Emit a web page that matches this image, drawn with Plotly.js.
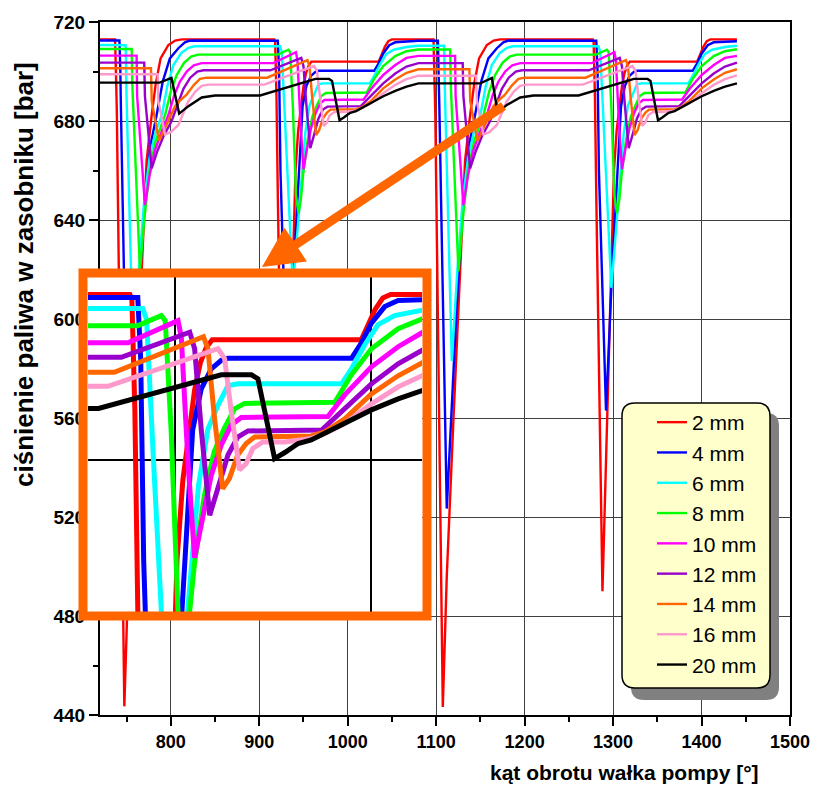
<!DOCTYPE html>
<html><head><meta charset="utf-8">
<script src="https://cdn.plot.ly/plotly-3.0.1.min.js"></script>
<style>html,body{margin:0;padding:0;background:#fff}#chart{width:816px;height:785px}</style>
</head><body><div id="chart"></div>
<script>
// ---- data (angle [deg], pressure [bar]) ----
const names = ["2 mm","4 mm","6 mm","8 mm","10 mm","12 mm","14 mm","16 mm","20 mm"];
const colors = ["#ff0000","#0000ff","#00ffff","#00ff00","#ff00ff","#9900cc","#ff6600","#ff99cc","#000000"];

const x_2mm = [720,737,738,739,747.5,752,759.5,767,772.7,778.4,783,788.5,797.3,805,812.3,
  917,918,919.5,921,928,936,941,944,947,950,953,956,959,1035,1038,1042,1046,1050,
  1097,1098,1099,1107.5,1112,1119.5,1127,1132.7,1138.4,1143,1148.5,1157.3,1165,1172.3,
  1277,1278,1279.5,1281,1288,1296,1301,1304,1307,1310,1313,1316,1319,1395,1398,1402,1406,1410,1440];
const y_2mm = [713,713,700,684,443.5,496,559,621,664,682.4,695,705.3,710.7,712.5,713,
  713,712,690,650,490,600,660,676,686,694,699.5,702.5,704,704,706.5,710,712.3,713,
  713,700,684,443.2,496,559,621,664,682.4,695,705.3,710.7,712.5,713,
  713,712,690,650,490,600,660,676,686,694,699.5,702.5,704,704,706.5,710,712.3,713,713];

const x_4mm = [720,742,743,743.7,752,758,763.3,770.8,777,784,791,799,808.6,816,821.7,
  921,922.5,924,932,939,944,947,949,953.4,958.5,963.6,967,1030,1035,1040.2,1047,1053.8,1080,
  1102,1103,1103.7,1112,1118,1123.3,1130.8,1137,1144,1151,1159,1168.6,1176,1181.7,
  1281,1282.5,1284,1292,1299,1304,1307,1309,1313.4,1318.5,1323.6,1327,1390,1395,1400.2,1407,1413.8,1440];
const y_4mm = [712.5,712.5,700,684,523.4,568,605.9,650,670,682.4,696,705.3,709.4,711.8,712.5,
  712.4,700,660,563,620,655,675,686,694.2,698.2,699.9,700.3,700.3,703.3,707.3,710.6,711.8,712.4,
  712.4,700,684,523.4,568,605.9,650,670,682.4,696,705.3,709.4,711.8,712.5,
  712.4,700,660,563,620,655,675,686,694.2,698.2,699.9,700.3,700.3,703.3,707.3,710.6,711.8,712.2];

const x_6mm = [720,749,749.5,750,757.7,764,770,776,783,790,796,803,812,820,827,
  923.5,925.5,929,933,938,942,946,949,952,956.8,961.9,967,972,1025,1030,1036.8,1043.6,1052,1066.5,1080,
  1109,1109.5,1110,1117.7,1124,1130,1136,1143,1150,1156,1163,1172,1180,1187,
  1283.5,1285.5,1289,1293,1298,1302,1306,1309,1312,1316.8,1321.9,1327,1332,1385,1390,1396.8,1403.6,1412,1426.5,1440];
const y_6mm = [710.7,710.6,700,690,583,620,648,665,676,682.4,694,702.6,707.5,709.6,710.2,
  710.2,708,680,650,612.6,630,648,662,675,686.2,690.9,694.8,695.2,695.2,698.2,703,707,708.8,709.9,710.4,
  710.4,700,690,583,620,648,665,676,682.4,694,702.6,707.5,709.6,710.2,
  710.2,708,680,650,612.6,630,648,662,675,686.2,690.9,694.8,695.2,695.2,698.2,703,707,708.8,709.9,710.4];

const x_8mm = [720,755.8,756.5,765.2,770,776,783,793.5,800,806.7,815,823,831,
  921,933,935,938,941.5,944.4,947,950,955,960,965,970.4,975.5,1021.5,1030,1040.2,1053.8,1066.5,1080,
  1115.8,1116.5,1125.2,1130,1136,1143,1153.5,1160,1166.7,1175,1183,1191,
  1281,1293,1295,1298,1301.5,1304.4,1307,1310,1315,1320,1325,1330.4,1335.5,1381.5,1390,1400.2,1413.8,1426.5,1440];
const y_8mm = [709.1,709.1,695,619.2,640,660,672,682.4,692,698.6,703.5,706,706.8,
  706.8,708.8,707.8,686,650,642.7,648,659.6,673,681.7,686.2,690.2,691.3,691.5,697,702.2,706.2,708.2,708.9,
  708.9,695,619.2,640,660,672,682.4,692,698.6,703.5,706,706.8,
  706.8,708.8,707.8,686,650,642.7,648,659.6,673,681.7,686.2,690.2,691.3,691.5,697,702.2,706.2,708.2,709];

const x_10mm = [720,761.4,762,770.8,776,782,790,797.3,804,810.4,818,826,835,
  916,941.5,943.2,946.6,950,953.4,958.5,963.6,968.7,973.8,1018,1026.6,1040.2,1053.8,1066.5,1080,
  1121.4,1122,1130.8,1136,1142,1150,1157.3,1164,1170.4,1178,1186,1195,
  1276,1301.5,1303.2,1306.6,1310,1313.4,1318.5,1323.6,1328.7,1333.8,1378,1386.6,1400.2,1413.8,1426.5,1440];
const y_10mm = [706.4,706.4,690,646,658,668,676,682.4,690.5,695.9,700,702.5,703.4,
  703.4,707.8,704.5,679.7,660.5,667.6,677,683,687,688.5,688.7,693,698.6,702.6,705.5,706.3,
  706.3,690,646,658,668,676,682.4,690.5,695.9,700,702.5,703.4,
  703.4,707.8,704.5,679.7,660.5,667.6,677,683,687,688.5,688.7,693,698.6,702.6,705.5,706.3];

const x_12mm = [720,770,770.8,778.4,785,792,801,808,814.3,822,830,837,
  912.6,947.5,950,953.4,957.7,961.9,967,972,977.2,1014.8,1026.6,1040.2,1053.8,1066.5,1080,
  1130,1130.8,1138.4,1145,1152,1161,1168,1174.3,1182,1190,1197,
  1272.6,1307.5,1310,1313.4,1317.7,1321.9,1327,1332,1337.2,1374.8,1386.6,1400.2,1413.8,1426.5,1440];
const y_12mm = [703.6,703.6,690,660.9,668,674,680,687,693,697.5,700,700.5,
  700.5,705.5,702.2,686,669,674.3,681,684.6,685.8,686,690.2,695.2,699.2,702,703.4,
  703.4,690,660.9,668,674,680,687,693,697.5,700,700.5,
  700.5,705.5,702.2,686,669,674.3,681,684.6,685.8,686,690.2,695.2,699.2,702,703.6];

const x_14mm = [720,777.6,778.5,786.7,792,798,804.8,811,817.6,826,833,840.5,
  909,954.5,956.8,960,964.3,967.7,972,976.3,980.6,1009.5,1016.4,1026.6,1040.2,1053.8,1066.5,1080,
  1137.6,1138.5,1146.7,1152,1158,1164.8,1171,1177.6,1186,1193,1200.5,
  1269,1314.5,1316.8,1320,1324.3,1327.7,1332,1336.3,1340.6,1369.5,1376.4,1386.6,1400.2,1413.8,1426.5,1440];
const y_14mm = [701.3,701.3,688,672,676,681,686,688.5,690.5,694.5,697,697.5,
  697.5,704.6,702.2,688.9,674.3,676.3,681,683.3,684.6,684.8,685.6,688.2,693.2,696.8,699.5,700.9,
  700.9,688,672,676,681,686,688.5,690.5,694.5,697,697.5,
  697.5,704.6,702.2,688.9,674.3,676.3,681,683.3,684.6,684.8,685.6,688.2,693.2,696.8,699.5,700.9];

const x_16mm = [720,785.2,786,793.5,800,808.6,814,819.6,828,835,842.4,
  905.8,961.9,965.3,968.7,972.9,976.3,979.7,984.8,996,1009.5,1016.4,1026.6,1040.2,1053.8,1066.5,1080,
  1145.2,1146,1153.5,1160,1168.6,1174,1179.6,1188,1195,1202.4,
  1265.8,1321.9,1325.3,1328.7,1332.9,1336.3,1339.7,1344.8,1356,1369.5,1376.4,1386.6,1400.2,1413.8,1426.5,1440];
const y_16mm = [698.9,698.9,688,674.5,675.5,678.4,683,687.8,692,694.2,694.7,
  694.7,702.2,700.2,689.6,678,679.3,682.3,683.6,683.6,684.3,685.3,687.3,691.2,694.6,696.9,698.3,
  698.3,688,674.5,675.5,678.4,683,687.8,692,694.2,694.7,
  694.7,702.2,700.2,689.6,678,679.3,682.3,683.6,683.6,684.3,685.3,687.3,691.2,694.6,696.9,698.4];

const x_20mm = [720,787.5,800.8,809.5,820,835,850,
  901,963.6,979,982.3,990.8,996,1002.8,1009.5,1016.4,1026.6,1040.2,1053.8,1066.5,1080,
  1150,1163,1169.5,1180,1195,1210,
  1261,1323.6,1339,1342.3,1350.8,1356,1362.8,1369.5,1376.4,1386.6,1400.2,1413.8,1426.5,1440];
const y_20mm = [695.5,695.5,697.4,683,686,689.5,690.3,
  690.3,697,697,696.2,680.3,681.5,683.3,684,685.3,687.3,690,692.2,693.9,695.2,
  695.2,697.4,683.5,686.5,689.5,690.3,
  690.3,697,697,696.2,680.3,681.5,683.3,684,685.3,687.3,690,692.2,693.9,695.2];

const xs = [x_2mm,x_4mm,x_6mm,x_8mm,x_10mm,x_12mm,x_14mm,x_16mm,x_20mm];
const ys = [y_2mm,y_4mm,y_6mm,y_8mm,y_10mm,y_12mm,y_14mm,y_16mm,y_20mm];

// ---- traces ----
const traces = [];
for (let i = 0; i < names.length; i++) {
  traces.push({x: xs[i], y: ys[i], name: names[i], type: 'scatter', mode: 'lines',
    xaxis: 'x', yaxis: 'y', line: {color: colors[i], width: 2.4}, hoverinfo: 'skip'});
}
for (let i = 0; i < names.length; i++) {
  traces.push({x: xs[i], y: ys[i], name: names[i], type: 'scatter', mode: 'lines',
    xaxis: 'x2', yaxis: 'y2', showlegend: false, line: {color: colors[i], width: 5}, hoverinfo: 'skip'});
}

// ---- layout helpers (pixel -> paper) ----
const L = 40, R = 790, T = 22, B = 715;
const px = v => (v - L) / (R - L);
const py = v => (B - v) / (B - T);

function roundRect(x0, y0, x1, y1, r) {
  const rx = r / (R - L), ry = r / (B - T);
  const a = px(x0), b = px(x1), t = py(y0), d = py(y1);
  return `M${a+rx},${t} L${b-rx},${t} Q${b},${t} ${b},${t-ry} L${b},${d+ry} Q${b},${d} ${b-rx},${d} ` +
         `L${a+rx},${d} Q${a},${d} ${a},${d+ry} L${a},${t-ry} Q${a},${t} ${a+rx},${t} Z`;
}

const fontFam = 'Liberation Sans, Arial, sans-serif';
const layout = {
  width: 816, height: 785,
  margin: {l: L, r: 816 - R, t: T, b: 785 - B},
  paper_bgcolor: '#ffffff', plot_bgcolor: '#ffffff',
  font: {family: fontFam, color: '#000'},
  showlegend: true,
  xaxis: {
    domain: [px(100), 1], range: [720, 1500], anchor: 'y',
    tick0: 0, dtick: 100, ticks: 'outside', ticklen: 9, tickwidth: 2, tickcolor: '#000',
    minor: {dtick: 50, ticks: 'outside', ticklen: 5, tickwidth: 2, tickcolor: '#000', showgrid: false},
    showgrid: true, gridcolor: '#404040', gridwidth: 1,
    showline: true, linecolor: '#000', linewidth: 2, mirror: true, zeroline: false,
    tickfont: {family: fontFam, size: 18, weight: 'bold', color: '#000'}
  },
  yaxis: {
    domain: [0, 1], range: [440, 720], anchor: 'x',
    tick0: 0, dtick: 40, ticks: 'outside', ticklen: 9, tickwidth: 2, tickcolor: '#000',
    minor: {dtick: 20, ticks: 'outside', ticklen: 5, tickwidth: 2, tickcolor: '#000', showgrid: false},
    showgrid: true, gridcolor: '#404040', gridwidth: 1,
    showline: true, linecolor: '#000', linewidth: 2, mirror: true, zeroline: false,
    tickfont: {family: fontFam, size: 19, weight: 'bold', color: '#000'}
  },
  xaxis2: {
    domain: [px(88), px(422)], range: [1255.6, 1426], anchor: 'y2',
    tick0: 0, dtick: 100, showgrid: true, gridcolor: '#000', gridwidth: 2,
    showticklabels: false, ticks: '', showline: false, zeroline: false
  },
  yaxis2: {
    domain: [py(612), py(277)], range: [649.7, 716.5], anchor: 'x2',
    tick0: 0, dtick: 40, showgrid: true, gridcolor: '#000', gridwidth: 2,
    showticklabels: false, ticks: '', showline: false, zeroline: false
  },
  legend: {
    x: px(652), xanchor: 'left', y: py(402), yanchor: 'top',
    bgcolor: 'rgba(0,0,0,0)', borderwidth: 0,
    font: {family: fontFam, size: 21, color: '#000'}
  },
  shapes: [
    {type: 'rect', xref: 'paper', yref: 'paper', x0: px(83), x1: px(427), y0: py(616), y1: py(273),
     line: {color: '#ff6600', width: 9}, fillcolor: 'rgba(0,0,0,0)', layer: 'above'},
    {type: 'path', xref: 'paper', yref: 'paper', path: roundRect(631, 413, 779, 700, 13),
     fillcolor: '#808080', line: {width: 0}, layer: 'above'},
    {type: 'path', xref: 'paper', yref: 'paper', path: roundRect(622, 403, 770, 688, 13),
     fillcolor: '#ffffcc', line: {color: '#000', width: 1.5}, layer: 'above'}
  ],
  annotations: [
    {xref: 'paper', yref: 'paper', x: px(262), y: py(267), ax: 243, ay: -162, axref: 'pixel', ayref: 'pixel',
     text: '', showarrow: true, arrowcolor: '#ff6600', arrowwidth: 9, arrowhead: 2, arrowsize: 0.9, standoff: 0},
    {xref: 'paper', yref: 'paper', x: px(624), y: py(772), xanchor: 'center', yanchor: 'middle',
     text: '<b>kąt obrotu wałka pompy [°]</b>', showarrow: false, font: {family: fontFam, size: 21, color: '#000'}},
    {xref: 'paper', yref: 'paper', x: px(24), y: py(275), xanchor: 'center', yanchor: 'middle', textangle: -90,
     text: '<b>ciśnienie paliwa w zasobniku [bar]</b>', showarrow: false, font: {family: fontFam, size: 26, color: '#000'}}
  ]
};

Plotly.newPlot('chart', traces, layout, {displayModeBar: false, staticPlot: true});
</script>
</body></html>
